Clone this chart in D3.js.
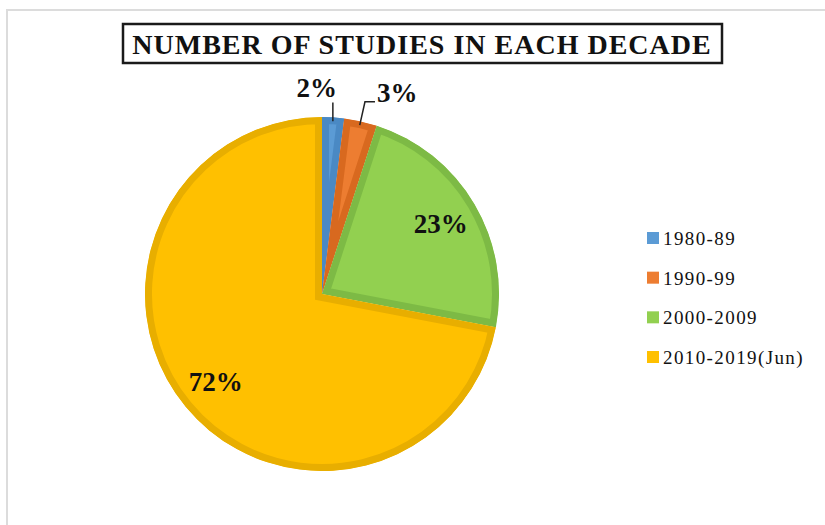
<!DOCTYPE html>
<html>
<head>
<meta charset="utf-8">
<script src="https://cdn.jsdelivr.net/npm/d3@7/dist/d3.min.js"></script>
<style>
  html, body { margin: 0; padding: 0; background: #fff; }
  svg { display: block; }
</style>
</head>
<body>
<svg id="chart" width="825" height="525"></svg>
<script>
// Share of studies published in each decade
const title = "NUMBER OF STUDIES IN EACH DECADE";
const decades = ["1980-89", "1990-99", "2000-2009", "2010-2019(Jun)"];
const shares = [2, 3, 23, 72];
const fillColors = ["#5B9BD5", "#ED7D31", "#92D050", "#FFC000"];
const edgeColors = ["#4A89C4", "#D8691F", "#7DBA45", "#E8AE00"];

const svg = d3.select("#chart");
const serif = "'Liberation Serif', 'Times New Roman', serif";

// light frame around the chart area
svg.append("path")
  .attr("d", "M7,525 L7,10 L825,10")
  .attr("fill", "none")
  .attr("stroke", "#dcdcdc")
  .attr("stroke-width", 2);

// boxed title
svg.append("rect")
  .attr("x", 123).attr("y", 24)
  .attr("width", 599).attr("height", 39)
  .attr("fill", "#fff")
  .attr("stroke", "#1a1a1a")
  .attr("stroke-width", 2.5);
svg.append("text")
  .attr("x", 422).attr("y", 54)
  .attr("text-anchor", "middle")
  .attr("font-family", serif)
  .attr("font-weight", "bold")
  .attr("font-size", 28)
  .attr("letter-spacing", 1)
  .attr("fill", "#111")
  .text(title);

// pie
const cx = 322, cy = 294, r = 177;
const data = decades.map((d, i) => ({ decade: d, value: shares[i], i }));
const pie = d3.pie().value(d => d.value).sort(null);
const arc = d3.arc().innerRadius(0).outerRadius(r);
const arcs = pie(data);

const g = svg.append("g").attr("transform", `translate(${cx},${cy})`);
const defs = svg.append("defs");

arcs.forEach((a, i) => {
  defs.append("clipPath").attr("id", "clip" + i)
    .append("path").attr("d", arc(a));
});

// each slice gets a darker inner edge of its own hue
g.selectAll("path.slice")
  .data(arcs)
  .join("path")
  .attr("class", "slice")
  .attr("d", arc)
  .attr("fill", (d, i) => fillColors[i])
  .attr("stroke", (d, i) => edgeColors[i])
  .attr("stroke-width", 14)
  .attr("stroke-linejoin", "miter")
  .attr("clip-path", (d, i) => `url(#clip${i})`);

// labels inside the two large slices
const insideArc = d3.arc().innerRadius(r * 0.78).outerRadius(r * 0.78);
arcs.filter(a => a.data.value >= 10).forEach(a => {
  const [x, y] = insideArc.centroid(a);
  g.append("text")
    .attr("x", x).attr("y", y)
    .attr("text-anchor", "middle")
    .attr("dominant-baseline", "central")
    .attr("font-family", serif)
    .attr("font-weight", "bold")
    .attr("font-size", 27)
    .attr("fill", "#111")
    .text(a.data.value + "%");
});

// small slices: labels outside with leader lines
const outerArcs = arcs.filter(a => a.data.value < 10);
outerArcs.forEach((a, k) => {
  const mid = (a.startAngle + a.endAngle) / 2;
  const p0 = [Math.sin(mid) * (r - 4), -Math.cos(mid) * (r - 4)];
  const ext = k === 0 ? 15 : 20;
  const p1 = [Math.sin(mid) * (r + ext), -Math.cos(mid) * (r + ext)];
  let pts = [p0, p1];
  let tx, ty, anchor;
  if (k === 0) {
    p1[0] = p0[0];
    tx = p1[0] + 4; ty = p1[1] - 5; anchor = "end";
  } else {
    const p2 = [p1[0] + 10, p1[1]];
    pts.push(p2);
    tx = p2[0] + 2; ty = p2[1]; anchor = "start";
  }
  g.append("path")
    .attr("d", d3.line()(pts))
    .attr("fill", "none")
    .attr("stroke", "#222")
    .attr("stroke-width", 1.5);
  g.append("text")
    .attr("x", tx).attr("y", ty)
    .attr("text-anchor", anchor)
    .attr("font-family", serif)
    .attr("font-weight", "bold")
    .attr("font-size", 27)
    .attr("fill", "#111")
    .text(a.data.value + "%");
});

// legend
const legendY = d3.scalePoint().domain(decades).range([238, 357]);
const legend = svg.append("g");
decades.forEach((d, i) => {
  const y = legendY(d);
  legend.append("rect")
    .attr("x", 647).attr("y", y - 6)
    .attr("width", 12).attr("height", 12)
    .attr("fill", fillColors[i]);
  legend.append("text")
    .attr("x", 663).attr("y", y + 7)
    .attr("font-family", serif)
    .attr("font-size", 19)
    .attr("letter-spacing", 1.4)
    .attr("fill", "#111")
    .text(d);
});
</script>
</body>
</html>
